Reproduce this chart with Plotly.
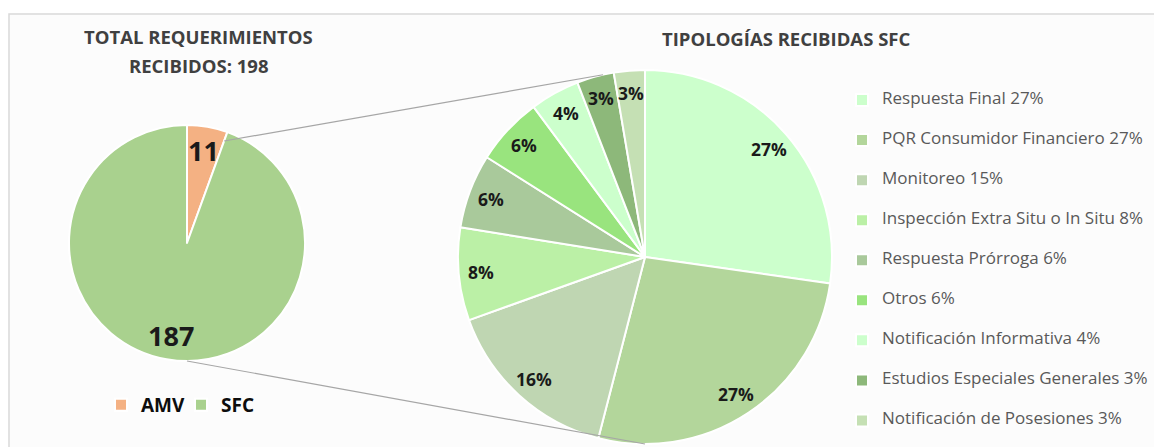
import math
import plotly.graph_objects as go

W, H = 1162, 447
OFF = 8  # margen del body de la página

# Pie de totales
totales = ["AMV", "SFC"]
totales_vals = [11, 187]
totales_colores = ["#F4B183", "#A9D18E"]

# Pie de tipologías SFC
tipologias = [
    "Respuesta Final 27%",
    "PQR Consumidor Financiero 27%",
    "Monitoreo 15%",
    "Inspección Extra Situ o In Situ 8%",
    "Respuesta Prórroga 6%",
    "Otros 6%",
    "Notificación Informativa 4%",
    "Estudios Especiales Generales 3%",
    "Notificación de Posesiones 3%",
]
tipologias_vals = [51, 50, 29, 15, 12, 11, 8, 6, 5]
tipologias_colores = [
    "#CCFFCC", "#B3D69B", "#BFD6B2", "#BBF0A6", "#A9C99B",
    "#99E47E", "#CCFFCC", "#8DB87A", "#C5E0B4",
]

FONT = "Open Sans"
TITLE_COLOR = "#404040"

# geometría (px de la página)
L_CX, L_CY, L_R = 187, 243, 118
R_CX, R_CY, R_R = 645, 257, 187


def px(x, y):
    return (x - OFF) / W, 1 - (y - OFF) / H


def dominio(cx, cy, r):
    xa, ya = px(cx - r, cy + r)
    xb, yb = px(cx + r, cy - r)
    return dict(x=[xa, xb], y=[ya, yb])


def punto(cx, cy, r, frac):
    ang = 2 * math.pi * frac
    return px(cx + r * math.sin(ang), cy - r * math.cos(ang))


def etiquetas_pie(vals, cx, cy, r, factor, textos, size):
    total = sum(vals)
    acum = 0
    out = []
    for v, t in zip(vals, textos):
        mid = (acum + v / 2) / total
        acum += v
        x, y = punto(cx, cy, r * factor, mid)
        out.append(dict(text="<b>%s</b>" % t, x=x, y=y, xref="paper", yref="paper",
                        showarrow=False, xanchor="center", yanchor="middle",
                        font=dict(family=FONT, size=size, color="#1A1A1A")))
    return out


# truco de leyenda: 3 líneas para separar las entradas
etiquetas = ["<br><span style='font-size:17px'>%s</span><br> " % t for t in tipologias]

fig = go.Figure()

fig.add_trace(go.Pie(
    labels=totales, values=totales_vals, sort=False, direction="clockwise",
    domain=dominio(L_CX, L_CY, L_R),
    marker=dict(colors=totales_colores, line=dict(color="white", width=2)),
    textinfo="none", legend="legend", hoverinfo="label+value",
))

fig.add_trace(go.Pie(
    labels=etiquetas, values=tipologias_vals, sort=False, direction="clockwise",
    domain=dominio(R_CX, R_CY, R_R),
    marker=dict(colors=tipologias_colores, line=dict(color="white", width=2)),
    textinfo="none", legend="legend2", hoverinfo="percent",
))

# líneas de conexión entre ambos pies
frac_amv = totales_vals[0] / sum(totales_vals)
x0, y0 = punto(L_CX, L_CY, L_R * 0.92, frac_amv)
x1, y1 = punto(R_CX, R_CY, R_R, -0.036)
x2, y2 = punto(L_CX, L_CY, L_R, 0.5)
x3, y3 = punto(R_CX, R_CY, R_R, 0.5)

bx, by = px(8, 14)
shapes = [
    dict(type="rect", xref="paper", yref="paper", x0=bx + 1 / W, x1=1.01, y0=-0.01, y1=by,
         fillcolor="#FCFCFC", line=dict(color="#D9D9D9", width=1.5), layer="below"),
    dict(type="line", xref="paper", yref="paper", x0=x0, y0=y0, x1=x1, y1=y1,
         line=dict(color="#A6A6A6", width=1.2), layer="above"),
    dict(type="line", xref="paper", yref="paper", x0=x2, y0=y2, x1=x3, y1=y3,
         line=dict(color="#A6A6A6", width=1.2), layer="above"),
]

annotations = []
for texto, (cx, cy) in [("TOTAL REQUERIMIENTOS", (198, 36)), ("RECIBIDOS: 198", (198, 66)),
                        ("TIPOLOGÍAS RECIBIDAS SFC", (786, 38))]:
    x, y = px(cx, cy)
    annotations.append(dict(text="<b>%s</b>" % texto, x=x, y=y, xref="paper", yref="paper",
                            showarrow=False, xanchor="center", yanchor="middle",
                            font=dict(family=FONT, size=18.5, color=TITLE_COLOR)))

total_sfc = sum(tipologias_vals)
pct = ["%d%%" % round(v / total_sfc * 100) for v in tipologias_vals]
annotations += etiquetas_pie(tipologias_vals, R_CX, R_CY, R_R, 0.88, pct, 17.5)
annotations += etiquetas_pie(totales_vals, L_CX, L_CY, L_R, 0.8, [str(v) for v in totales_vals], 27)

lx, ly = px(146 - 45, 405)
l2x, l2y = px(887 - 45, 75)

fig.update_layout(
    width=W, height=H,
    margin=dict(l=0, r=0, t=0, b=0),
    paper_bgcolor="white",
    font=dict(family=FONT),
    shapes=shapes,
    annotations=annotations,
    legend=dict(
        orientation="h", x=lx, xanchor="left", y=ly, yanchor="middle",
        font=dict(family=FONT, size=19, color="#0D0D0D", weight="bold"),
        itemwidth=30, entrywidth=35, bgcolor="rgba(0,0,0,0)",
    ),
    legend2=dict(
        orientation="v", x=l2x, xanchor="left", y=l2y, yanchor="top",
        font=dict(family=FONT, size=9.5, color="#595959"),
        itemwidth=30, bgcolor="rgba(0,0,0,0)",
    ),
)

fig.write_html("out.html")
